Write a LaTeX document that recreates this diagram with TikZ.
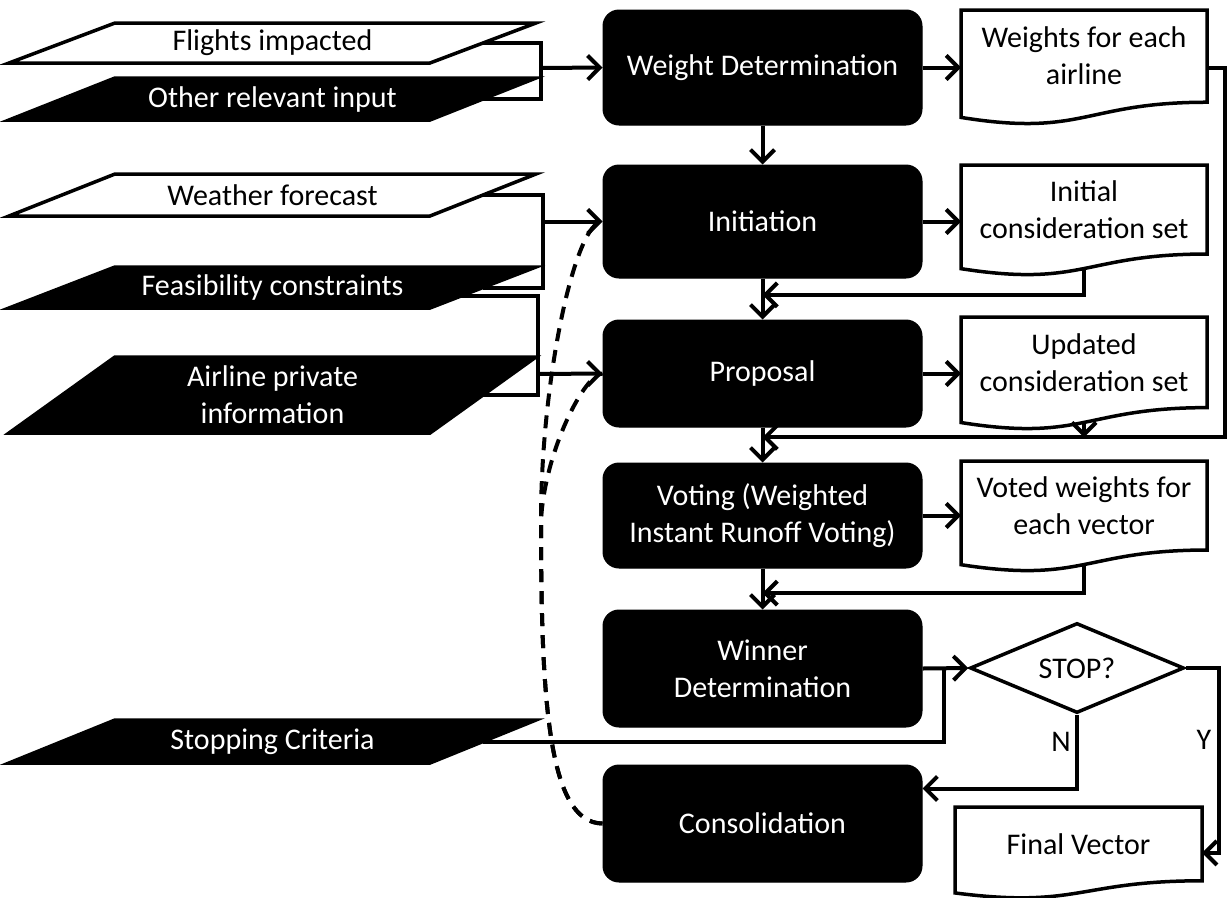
\documentclass[tikz,border=0pt]{standalone}
\usepackage{fontspec}
\setmainfont{Carlito}
\usetikzlibrary{arrows.meta,shapes.geometric,calc}
\tikzset{
  proc/.style={fill=black, draw=black, rounded corners=16pt, text=white, minimum width=319pt, inner sep=0pt, align=center, line width=1pt},
  doctext/.style={inner sep=0pt, outer sep=0pt, align=center},
  docline/.style={draw=black, fill=white, line width=3.5pt},
  paranode/.style={inner sep=0pt, outer sep=0pt, minimum width=421pt, align=center},
  conn/.style={line width=4pt},
  arr/.style={conn, -{Straight Barb[length=12pt,width=24pt]}},
  dashc/.style={line width=4pt, dash pattern=on 13pt off 9pt},
  lab/.style={inner sep=0pt},
}
% #1 name, #2 left, #3 right, #4 top, #5 H, #6 text
\newcommand\mydoc[6]{%
  \pgfmathsetmacro\mydcx{(#2+#3)/2}%
  \pgfmathsetmacro\mydcy{#4+0.401*#5}%
  \pgfmathsetmacro\mydw{#3-#2}%
  \pgfmathsetmacro\mydht{0.802*#5}%
  \pgfmathsetmacro\myyr{#4+0.802*#5}%
  \pgfmathsetmacro\myyl{#4+0.934*#5}%
  \pgfmathsetmacro\myyc{#4+1.107*#5}%
  \pgfmathsetmacro\myyb{#4+0.933*#5}%
  \path[docline] (#2,#4) -- (#3,#4) -- (#3,\myyr) .. controls (\mydcx,\myyr) and (\mydcx,\myyc) .. (#2,\myyl) -- cycle;
  \node[doctext, minimum width=\mydw pt, minimum height=\mydht pt] (#1) at (\mydcx,\mydcy) {#6};
  \coordinate (#1b) at (\mydcx,\myyb);
}
% #1 name, #2 cy, #3 h, #4 fill, #5 text colour, #6 text
\newcommand\mypara[6]{%
  \pgfmathsetmacro\mypyt{#2-#3/2}%
  \pgfmathsetmacro\mypyb{#2+#3/2}%
  \path[draw=black, fill=#4, line width=3.5pt] (9,\mypyb) -- (115,\mypyt) -- (536,\mypyt) -- (430,\mypyb) -- cycle;
  \node[paranode, minimum height=#3 pt, text=#5] (#1) at (272.5,#2) {#6};
}
\begin{document}
\begin{tikzpicture}[x=1pt,y=-1pt, font=\fontsize{30}{37}\selectfont]
\useasboundingbox (0,0) rectangle (1230,897);

% inputs
\mypara{fi}{43}{40}{white}{black}{Flights impacted}
\mypara{oi}{99}{42}{black}{white}{Other relevant input}
\mypara{wf}{195}{42}{white}{black}{Weather forecast}
\mypara{fc}{287.5}{41}{black}{white}{Feasibility constraints}
\mypara{ap}{395}{76}{black}{white}{Airline private\\information}
\mypara{sc}{741.5}{43}{black}{white}{Stopping Criteria}

% documents
\mydoc{wdoc}{961}{1207}{10}{115}{Weights for each\\airline}
\mydoc{idoc}{961}{1207}{165}{111}{Initial\\consideration set}
\mydoc{udoc}{961}{1207}{317}{113}{Updated\\consideration set}
\mydoc{vdoc}{961}{1207}{461}{111}{Voted weights for\\each vector}
\mydoc{fdoc}{955}{1202}{807}{92}{Final Vector}

% process boxes
\node[proc, minimum height=115pt] (wd) at (762.5,67.5) {Weight Determination};
\node[proc, minimum height=113pt] (init) at (762.5,221.5) {Initiation};
\node[proc, minimum height=107pt] (prop) at (762.5,373.5) {Proposal};
\node[proc, minimum height=105pt] (vote) at (762.5,515.5) {Voting (Weighted\\Instant Runoff Voting)};
\node[proc, minimum height=117pt] (win) at (762.5,668.5) {Winner\\Determination};
\node[proc, minimum height=117pt] (cons) at (762.5,823.5) {Consolidation};

% decision
\node[diamond, draw=black, fill=white, line width=3.5pt, aspect=2.38, minimum width=214pt, minimum height=90pt, inner sep=0pt] (stop) at (1077,668) {STOP?};

% dashed feedback curves
\draw[dashc] (cons.west) .. controls (548,823) and (541,700) .. (541,520) .. controls (541,380) and (575,221.5) .. (init.west);
\draw[dashc] (cons.west) .. controls (548,823) and (541,700) .. (541,520) .. controls (545,450) and (585,373.5) .. (prop.west);

% input connectors
\coordinate (j1) at (541,68);
\coordinate (j2) at (543,221.5);
\coordinate (j3) at (538,374);
\coordinate (j4) at (944,668.5);
\coordinate (fc2) at ($(fc.east)+(-22,8.5)$);
\draw[conn] (fi.east) -- (fi.east -| j1) |- (oi.east);
\draw[arr] (j1) -- (wd.west);
\draw[conn] (wf.east) -- (wf.east -| j2) |- (fc.east);
\draw[arr] (j2) -- (init.west);
\draw[conn] (fc2) -- (fc2 -| j3) |- (ap.east);
\draw[arr] (j3) -- (prop.west);
\draw[conn] (sc.east) -| (j4);

% main flow
\draw[arr] (wd) -- (init);
\draw[arr] (init) -- (prop);
\draw[arr] (prop) -- (vote);
\draw[arr] (vote) -- (win);

\draw[arr] (wd.east) -- (wd.east -| wdoc.west);
\draw[arr] (init.east) -- (init.east -| idoc.west);
\draw[arr] (prop.east) -- (prop.east -| udoc.west);
\draw[arr] (vote.east) -- (vote.east -| vdoc.west);

\coordinate (m1) at ($(init.south)!0.4!(prop.north)$);
\coordinate (m2) at ($(prop.south)!0.28!(vote.north)$);
\coordinate (m3) at ($(vote.south)!0.6!(win.north)$);
\draw[arr] (idocb) |- (m1);
\draw[arr] (wd.east -| wdoc.east) -- ++(18,0) |- (m2);
\draw[arr] (udocb) -- (udocb |- m2);
\draw[arr] (vdocb) |- (m3);

\draw[arr] (win.east) -- (stop.west);
\draw[arr] (stop.south) |- ([yshift=35pt]cons.east);
\draw[arr] (stop.east) -- ++(33,0) |- ([yshift=-9pt]fdoc.east);

\node[lab] (lN) at (1061,742) {N};
\node[lab] (lY) at (1204,740) {Y};
\end{tikzpicture}
\end{document}
